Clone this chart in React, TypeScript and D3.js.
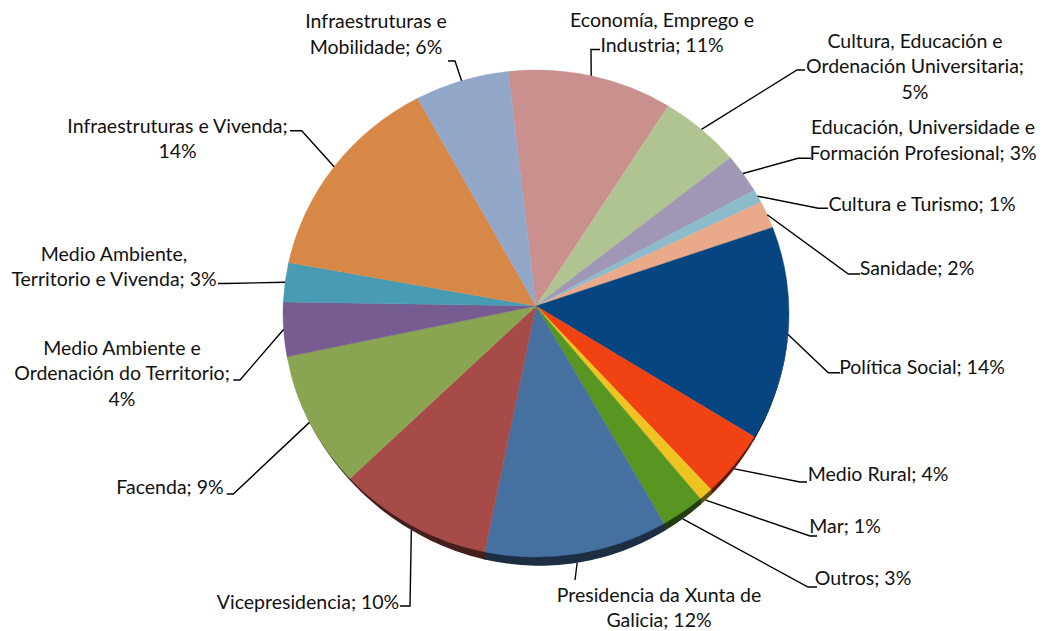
import React from 'react';
import * as d3 from 'd3';

// ---- data ----
const categories = [
  'Economía, Emprego e Industria',
  'Cultura, Educación e Ordenación Universitaria',
  'Educación, Universidade e Formación Profesional',
  'Cultura e Turismo',
  'Sanidade',
  'Política Social',
  'Medio Rural',
  'Mar',
  'Outros',
  'Presidencia da Xunta de Galicia',
  'Vicepresidencia',
  'Facenda',
  'Medio Ambiente e Ordenación do Territorio',
  'Medio Ambiente, Territorio e Vivenda',
  'Infraestruturas e Vivenda',
  'Infraestruturas e Mobilidade',
];
const values = [10.5, 5.2, 2.6, 0.9, 1.8, 14.2, 4.4, 0.9, 2.8, 11.7, 9.9, 9.0, 3.6, 2.6, 13.9, 6.0];
const labelLines = [
  ['Economía, Emprego e', 'Industria; 11%'],
  ['Cultura, Educación e', 'Ordenación Universitaria;', '5%'],
  ['Educación, Universidade e', 'Formación Profesional; 3%'],
  ['Cultura e Turismo; 1%'],
  ['Sanidade; 2%'],
  ['Política Social; 14%'],
  ['Medio Rural; 4%'],
  ['Mar; 1%'],
  ['Outros; 3%'],
  ['Presidencia da Xunta de', 'Galicia; 12%'],
  ['Vicepresidencia; 10%'],
  ['Facenda; 9%'],
  ['Medio Ambiente e', 'Ordenación do Territorio;', '4%'],
  ['Medio Ambiente,', 'Territorio e Vivenda; 3%'],
  ['Infraestruturas e Vivenda;', '14%'],
  ['Infraestruturas e', 'Mobilidade; 6%'],
];

// ---- styles / layout ----
const colors = [
  '#C9908E', '#B0C492', '#A096B6', '#8CBCCC', '#EAAA8A', '#074580', '#F04212', '#F0C420',
  '#589622', '#4670A0', '#A64B48', '#8AA552', '#765C91', '#489BB2', '#D88846', '#93A7C9',
];
const labelCX = [662, 915, 923, 922, 917, 922, 878, 845, 863, 659, 308, 170, 122, 114, 177.5, 376];
const labelY0 = [19, 40, 126.5, 203.3, 267.3, 366, 473, 525, 577, 594, 601.7, 486.7, 347.3, 253.3, 125, 20.5];
const elbowX = [591, 797, 798, 818.3, 848.3, 828.3, 800, 810, 808, 575, 410, 233.3, 240, 226, 301.7, 455];
const elbowY = [49.5, 70, 158.3, 208.3, 274, 372.7, 482, 536, 587, 580, 606, 494, 380, 283.5, 130.7, 61];
const hookX = [600, 805, 811, 828, 860, 840, 807, 817, 817, 575, 400, 226.7, 233.3, 218, 290, 448];

const W = 1045;
const H = 631;
const CX = 536;
const CY = 313.5;
const RX = 253;
const RY = 243.5;
const APEX_Y = 306;
const DEPTH = 9;
const START = (-6.3 * Math.PI) / 180;
const LINE_H = 25.5;

const pt = (a: number): [number, number] => [CX + RX * Math.sin(a), CY - RY * Math.cos(a)];
const thick = (a: number) => {
  const c = Math.cos(a - (170 * Math.PI) / 180);
  return c > 0 ? DEPTH * Math.pow(c, 2.5) : 0;
};

export default function App() {
  const arcs = d3
    .pie<number>()
    .sort(null)
    .startAngle(START)
    .endAngle(START + 2 * Math.PI)(values);

  const line = d3.line<[number, number]>();

  const slicePath = (a0: number, a1: number) => {
    const [x0, y0] = pt(a0);
    const [x1, y1] = pt(a1);
    const large = a1 - a0 > Math.PI ? 1 : 0;
    return `M${CX},${APEX_Y}L${x0},${y0}A${RX},${RY} 0 ${large} 1 ${x1},${y1}Z`;
  };

  const lo = (95 * Math.PI) / 180;
  const hi = (255 * Math.PI) / 180;
  const sides = arcs
    .map((a, i) => {
      const s = Math.max(a.startAngle - 0.004, lo);
      const e = Math.min(a.endAngle + 0.004, hi);
      if (e <= s) return null;
      const n = 40;
      const top: [number, number][] = [];
      const bot: [number, number][] = [];
      for (let k = 0; k <= n; k++) {
        const t = s + ((e - s) * k) / n;
        const [x, y] = pt(t);
        top.push([x, y - 1]);
        bot.push([x, y + thick(t)]);
      }
      const d = line([...top, ...bot.reverse()]) + 'Z';
      const c = d3.color(colors[i])!.darker(2.5).formatHex();
      return { d, c, i };
    })
    .filter(Boolean) as { d: string; c: string; i: number }[];

  return (
    <svg
      width={W}
      height={H}
      style={{ position: 'absolute', left: 0, top: 0, background: '#fff' }}
      xmlns="http://www.w3.org/2000/svg"
    >
      <g>
        {sides.map((s) => (
          <path key={'s' + s.i} d={s.d} fill={s.c} />
        ))}
      </g>
      <g>
        {arcs.map((a, i) => (
          <path
            key={categories[i]}
            d={slicePath(a.startAngle, a.endAngle)}
            fill={colors[i]}
            stroke={colors[i]}
            strokeWidth={0.4}
          />
        ))}
      </g>
      <g fill="none" stroke="#000" strokeWidth={1.4}>
        {arcs.map((a, i) => {
          const mid = (a.startAngle + a.endAngle) / 2;
          const [x, y] = pt(mid);
          const p0: [number, number] = [x, y + thick(mid)];
          return (
            <path
              key={'l' + i}
              d={line([p0, [elbowX[i], elbowY[i]], [hookX[i], elbowY[i]]]) || ''}
            />
          );
        })}
      </g>
      <g
        fontFamily="Lato, 'Open Sans', sans-serif"
        fontSize={19.5}
        fill="#111"
        textAnchor="middle"
        dominantBaseline="central"
      >
        {labelLines.map((lines, i) =>
          lines.map((t, j) => (
            <text key={i + '-' + j} x={labelCX[i]} y={labelY0[i] + j * LINE_H}>
              {t}
            </text>
          ))
        )}
      </g>
    </svg>
  );
}
